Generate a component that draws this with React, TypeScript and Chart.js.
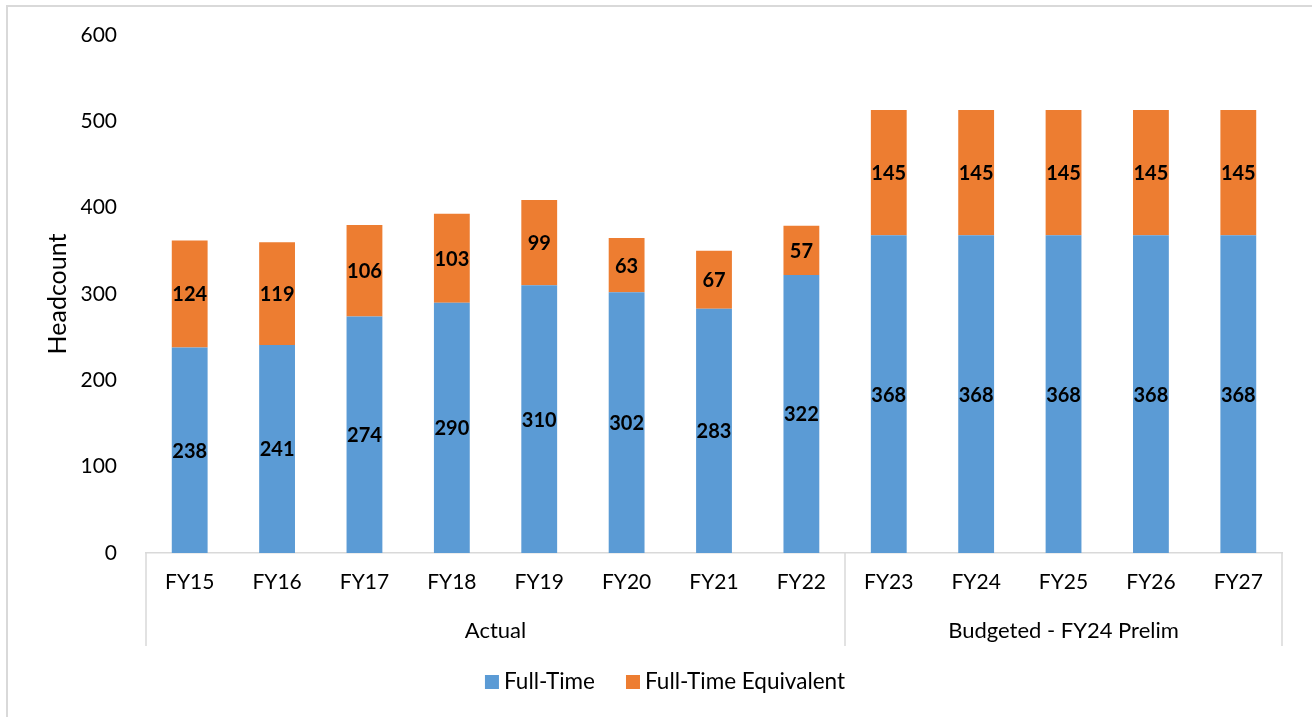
import React, { useEffect, useRef } from "react";
import { Chart, registerables } from "chart.js";

Chart.register(...registerables);

const categories = ["FY15", "FY16", "FY17", "FY18", "FY19", "FY20", "FY21", "FY22", "FY23", "FY24", "FY25", "FY26", "FY27"];
const fullTime = [238, 241, 274, 290, 310, 302, 283, 322, 368, 368, 368, 368, 368];
const fullTimeEquivalent = [124, 119, 106, 103, 99, 63, 67, 57, 145, 145, 145, 145, 145];
const groupLabels = ["Actual", "Budgeted - FY24 Prelim"];
const groupStarts = [0, 8];
const groupEnds = [7, 12];
const seriesNames = ["Full-Time", "Full-Time Equivalent"];
const seriesColors = ["#5B9BD5", "#ED7D31"];
const yMin = 0;
const yMax = 600;
const yStep = 100;

const FONT = "Lato, 'Open Sans', sans-serif";

const groupPlugin = {
  id: "groupPlugin",
  afterDraw(chart: any) {
    const ctx = chart.ctx;
    const x = chart.scales.x;
    const bottom = chart.chartArea.bottom;
    const half = (x.getPixelForValue(1) - x.getPixelForValue(0)) / 2;
    ctx.save();
    ctx.strokeStyle = "#d9d9d9";
    ctx.lineWidth = 1.5;
    const edges = new Set<number>();
    groupLabels.forEach((label, i) => {
      const l = x.getPixelForValue(groupStarts[i]) - half;
      const r = x.getPixelForValue(groupEnds[i]) + half;
      edges.add(Math.round(l * 2) / 2);
      edges.add(Math.round(r * 2) / 2);
      ctx.fillStyle = "#000";
      ctx.font = `22px ${FONT}`;
      ctx.textAlign = "center";
      ctx.textBaseline = "middle";
      ctx.fillText(label, (l + r) / 2, bottom + 78);
    });
    edges.forEach((e) => {
      ctx.beginPath();
      ctx.moveTo(e, bottom);
      ctx.lineTo(e, bottom + 93);
      ctx.stroke();
    });

    // legend
    ctx.font = `22.5px ${FONT}`;
    const box = 14;
    const gapText = 5;
    const gapItem = 31;
    const widths = seriesNames.map((n) => ctx.measureText(n).width);
    const total = widths.reduce((a, w) => a + box + gapText + w, 0) + gapItem * (seriesNames.length - 1);
    let cx = 665 - total / 2;
    const cy = 682;
    seriesNames.forEach((n, i) => {
      ctx.fillStyle = seriesColors[i];
      ctx.fillRect(cx, cy - box / 2, box, box);
      ctx.fillStyle = "#000";
      ctx.textAlign = "left";
      ctx.textBaseline = "middle";
      ctx.fillText(n, cx + box + gapText, cy);
      cx += box + gapText + widths[i] + gapItem;
    });
    ctx.restore();
  },
  afterDatasetsDraw(chart: any) {
    const ctx = chart.ctx;
    ctx.save();
    ctx.font = `bold 20px ${FONT}`;
    ctx.fillStyle = "#000";
    ctx.textAlign = "center";
    ctx.textBaseline = "middle";
    chart.data.datasets.forEach((ds: any, di: number) => {
      const meta = chart.getDatasetMeta(di);
      meta.data.forEach((el: any, i: number) => {
        const p = el.getCenterPoint();
        ctx.fillText(String(ds.data[i]), p.x, p.y + 1);
      });
    });
    ctx.restore();
  },
};

export default function App() {
  const ref = useRef<HTMLCanvasElement>(null);
  useEffect(() => {
    if (!ref.current) return;
    const chart = new Chart(ref.current, {
      type: "bar",
      data: {
        labels: categories,
        datasets: [
          {
            label: seriesNames[0],
            data: fullTime,
            backgroundColor: seriesColors[0],
            borderWidth: 0,
            categoryPercentage: 1,
            barPercentage: 0.41,
          },
          {
            label: seriesNames[1],
            data: fullTimeEquivalent,
            backgroundColor: seriesColors[1],
            borderWidth: 0,
            categoryPercentage: 1,
            barPercentage: 0.41,
          },
        ],
      },
      options: {
        animation: false,
        responsive: false,
        maintainAspectRatio: false,
        layout: { padding: { left: 0, right: 30, top: 35, bottom: 56 } },
        plugins: {
          legend: { display: false },
          tooltip: { enabled: false },
        },
        scales: {
          x: {
            stacked: true,
            grid: { display: false, drawTicks: false },
            border: { display: true, color: "#d9d9d9", width: 1.5 },
            ticks: { color: "#000", font: { family: FONT, size: 21 }, padding: 17, maxRotation: 0, autoSkip: false },
            afterFit: (s: any) => {
              s.height = 108;
            },
          },
          y: {
            stacked: true,
            min: yMin,
            max: yMax,
            grid: { display: false, drawTicks: false },
            border: { display: false },
            ticks: { stepSize: yStep, color: "#000", font: { family: FONT, size: 21 }, padding: 29 },
            title: {
              display: true,
              text: "Headcount",
              color: "#000",
              font: { family: FONT, size: 25 },
              padding: { top: 43, bottom: 0 },
            },
            afterFit: (s: any) => {
              s.width = 146;
              s.paddingTop = 0;
              s.paddingBottom = 0;
            },
          },
        },
      },
      plugins: [groupPlugin],
    });
    return () => chart.destroy();
  }, []);
  return (
    <>
      <div
        style={{
          position: "fixed",
          left: 6,
          top: 5,
          width: 2000,
          height: 2000,
          borderLeft: "2px solid #d9d9d9",
          borderTop: "2px solid #d9d9d9",
        }}
      />
      <canvas
        ref={ref}
        width={1312}
        height={717}
        style={{ position: "fixed", left: 0, top: 0, width: 1312, height: 717 }}
      />
    </>
  );
}
